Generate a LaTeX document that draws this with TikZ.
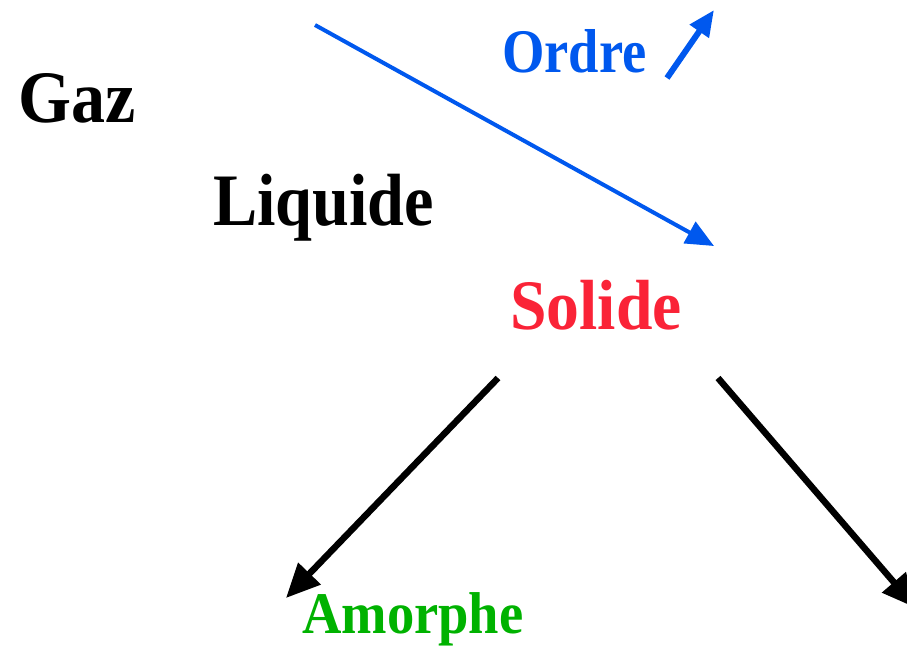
\documentclass[tikz,border=0pt]{standalone}
\usepackage{fontspec}
\usepackage{graphicx}
\setmainfont{Liberation Serif}
\usetikzlibrary{arrows.meta}
\definecolor{ordreblue}{RGB}{0,88,238}
\definecolor{solidred}{RGB}{250,35,55}
\definecolor{amgreen}{RGB}{0,178,0}
\tikzset{
  lbl/.style={inner sep=0pt, anchor=base west},
  bluearrow/.style={draw=ordreblue, -{Triangle[length=28pt,width=24pt]}},
  blackarrow/.style={draw=black, line width=6.5pt, -{Triangle[length=34pt,width=30pt]}},
}
\newcommand{\lblfont}[2]{\fontsize{#1}{#1}\selectfont\bfseries\scalebox{#2}[1]}
\begin{document}
\begin{tikzpicture}[x=1pt,y=-1pt]
\useasboundingbox (0,0) rectangle (907,646);
\clip (0,0) rectangle (907,646);
\node[lbl] (gaz) at (18,122) {\lblfont{74}{0.92}{Gaz}};
\node[lbl] (liquide) at (213,225) {\lblfont{74}{0.895}{Liquide}};
\node[lbl, text=ordreblue] (ordre) at (502,72) {\lblfont{62}{0.88}{Ordre}};
\node[lbl, text=solidred] (solide) at (510,329) {\lblfont{71}{0.925}{Solide}};
\node[lbl, text=amgreen] (amorphe) at (302,633) {\lblfont{59}{0.925}{Amorphe}};
\coordinate (b1s) at (315,25);
\coordinate (b1e) at (714,246);
\coordinate (b2s) at (667,78);
\coordinate (b2e) at (714,10);
\coordinate (k1s) at (498,378);
\coordinate (k1e) at (286,598);
\coordinate (k2s) at (718,378);
\coordinate (k2e) at (916,608);
\draw[bluearrow, line width=4pt] (b1s) -- (b1e);
\draw[bluearrow, line width=6pt, -{Triangle[length=26pt,width=22pt]}] (b2s) -- (b2e);
\draw[blackarrow] (k1s) -- (k1e);
\draw[blackarrow] (k2s) -- (k2e);
\end{tikzpicture}
\end{document}
